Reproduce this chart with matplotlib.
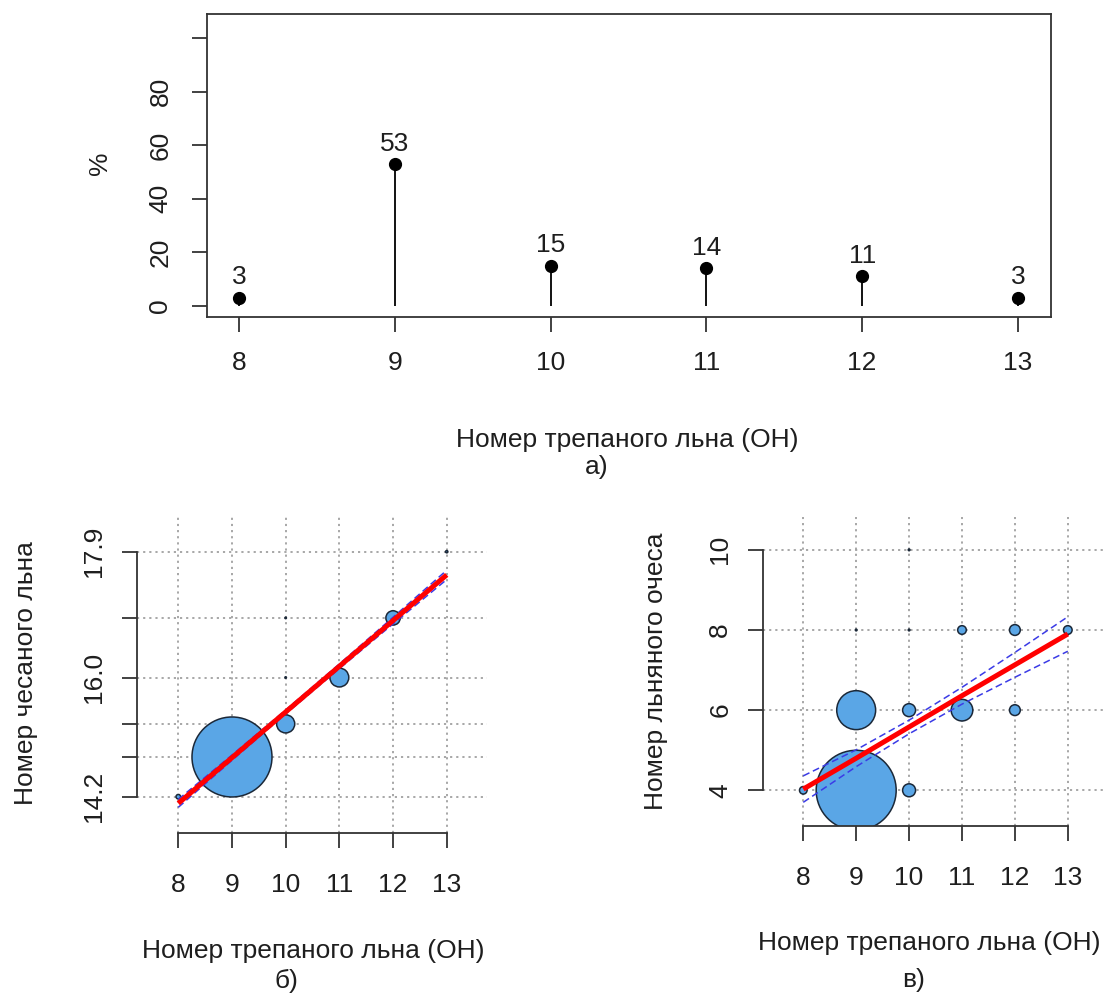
import matplotlib
matplotlib.use("Agg")
import matplotlib.pyplot as plt

plt.rcParams["font.family"] = ["Liberation Sans", "DejaVu Sans"]

# ---- data -------------------------------------------------------------
grade = [8, 9, 10, 11, 12, 13]                 # номер трепаного льна
share = [3, 53, 15, 14, 11, 3]                 # доля, %

# б) номер чесаного льна
hack_x = [8, 9, 10, 10, 10, 11, 12, 13]
hack_y = [14.2, 14.8, 15.3, 16.0, 16.9, 16.0, 16.9, 17.9]
hack_w = [3, 53, 12, 1, 1, 12.5, 9.5, 1.5]
hack_ticks = [14.2, 14.8, 15.3, 16.0, 16.9, 17.9]
hack_labels = ["14.2", "", "", "16.0", "", "17.9"]
hack_fit = [14.10, 14.79, 15.48, 16.17, 16.86, 17.55]
hack_ci = [0.06, 0.04, 0.03, 0.035, 0.05, 0.07]

# в) номер льняного очеса
tow_x = [8, 9, 9, 9, 10, 10, 10, 10, 11, 11, 12, 12, 13]
tow_y = [4, 4, 6, 8, 4, 6, 8, 10, 6, 8, 6, 8, 8]
tow_w = [3.5, 37, 18, 0.8, 6, 6, 0.8, 0.8, 10, 4, 5, 5, 4]
tow_ticks = [4, 6, 8, 10]
tow_fit = [4.03, 4.80, 5.58, 6.36, 7.13, 7.90]
tow_ci = [0.33, 0.21, 0.17, 0.21, 0.31, 0.43]

# ---- figure -----------------------------------------------------------
W, H = 1104, 994
DPI = 100
fig = plt.figure(figsize=(W / DPI, H / DPI), dpi=DPI)

FS = 19
INK = "#1e1e1e"
AXC = "#333333"
GRID = "#a0a0a0"
FILL = "#5aa6e6"
EDGE = "#1b2838"
BUBBLE_MAX_PX = 40.0


def rect(l, t, r, b):
    return [l / W, 1 - b / H, (r - l) / W, (b - t) / H]


def fy(y):
    return 1 - y / H


def style_ticks(ax, xpad, ypad):
    ax.tick_params(direction="out", length=10.8, width=1.3, color=AXC,
                   labelsize=FS, labelcolor=INK)
    ax.tick_params(axis="x", pad=xpad)
    ax.tick_params(axis="y", pad=ypad)
    for lab in ax.get_yticklabels():
        lab.set_rotation(90)
        lab.set_va("center")


# ---- а) distribution --------------------------------------------------
ax = fig.add_axes(rect(206.7, 14, 1051, 317))
ax.set_xlim(7.793, 13.212)
ax.set_ylim(-4.24, 109.1)
ax.vlines(grade, 0, share, color="black", lw=1.3)
ax.plot(grade, share, "o", color="black", ms=8.5)
for g, v in zip(grade, share):
    ax.annotate(f"{v}", (g, v), xytext=(0, 9.6), textcoords="offset points",
                ha="center", va="baseline", fontsize=FS, color=INK)
ax.set_xticks(grade)
ax.set_xticklabels([str(g) for g in grade])
ax.set_yticks([0, 20, 40, 60, 80, 100])
ax.set_yticklabels(["0", "20", "40", "60", "80", ""])
for s in ax.spines.values():
    s.set_linewidth(1.3)
    s.set_color(AXC)
style_ticks(ax, 13.7, 13.9)

fig.text(106.7 / W, fy(163), "%", rotation=90, rotation_mode="anchor",
         ha="center", va="baseline", fontsize=FS, color=INK)
fig.text(627 / W, fy(447), "Номер трепаного льна (ОН)", ha="center",
         va="baseline", fontsize=FS, color=INK)
fig.text(597 / W, fy(474), "а)", ha="center", va="baseline", fontsize=FS,
         color=INK)


def bubble_panel(ax, xs, ys, ws, yticks, ylabels, fit, ci, ylim, xlim):
    ax.set_xlim(*xlim)
    ax.set_ylim(*ylim)
    dotted = (0, (1.2, 2.2))
    for yv in yticks:
        ax.axhline(yv, color=GRID, lw=1.3, ls=dotted, zorder=0)
    for xv in grade:
        ax.axvline(xv, color=GRID, lw=1.3, ls=dotted, zorder=0)
    wmax = max(ws)
    sizes = [(2 * BUBBLE_MAX_PX * w / wmax * 72 / DPI) ** 2 for w in ws]
    ax.scatter(xs, ys, s=sizes, c=FILL, edgecolors=EDGE, linewidths=1.1,
               zorder=2)
    upper = [f + c for f, c in zip(fit, ci)]
    lower = [f - c for f, c in zip(fit, ci)]
    dash = (0, (4.5, 2.5))
    ax.plot(grade, upper, color="#3b3be6", lw=1.1, ls=dash, zorder=3)
    ax.plot(grade, lower, color="#3b3be6", lw=1.1, ls=dash, zorder=3)
    ax.plot(grade, fit, color="#ff0000", lw=3.6, zorder=4,
            solid_capstyle="butt")
    ax.set_xticks(grade)
    ax.set_xticklabels([str(g) for g in grade])
    ax.set_yticks(yticks)
    ax.set_yticklabels(ylabels)
    ax.spines["top"].set_visible(False)
    ax.spines["right"].set_visible(False)
    for side in ("left", "bottom"):
        ax.spines[side].set_linewidth(1.3)
        ax.spines[side].set_color(AXC)
    ax.spines["left"].set_bounds(yticks[0], yticks[-1])
    ax.spines["bottom"].set_bounds(grade[0], grade[-1])
    ax.patch.set_visible(False)


# ---- б) ---------------------------------------------------------------
ax2 = fig.add_axes(rect(136.7, 517, 487, 833))
bubble_panel(ax2, hack_x, hack_y, hack_w, hack_ticks, hack_labels,
             hack_fit, hack_ci, (13.652, 18.424), (7.225, 13.75))
style_ticks(ax2, 18.2, 11.5)
fig.text(33.3 / W, fy(673), "Номер чесаного льна", rotation=90,
         rotation_mode="anchor", ha="center", va="baseline", fontsize=FS,
         color=INK)
fig.text(313 / W, fy(958), "Номер трепаного льна (ОН)", ha="center",
         va="baseline", fontsize=FS, color=INK)
fig.text(286 / W, fy(988), "б)", ha="center", va="baseline", fontsize=FS,
         color=INK)

# ---- в) ---------------------------------------------------------------
ax3 = fig.add_axes(rect(762.7, 517, 1108, 826))
bubble_panel(ax3, tow_x, tow_y, tow_w, tow_ticks,
             [str(t) for t in tow_ticks], tow_fit, tow_ci,
             (3.109, 10.82), (7.233, 13.76))
style_ticks(ax3, 18.2, 11.2)
fig.text(663.3 / W, fy(671.7), "Номер льняного очеса", rotation=90,
         rotation_mode="anchor", ha="center", va="baseline", fontsize=FS,
         color=INK)
fig.text(1101 / W, fy(950), "Номер трепаного льна (ОН)", ha="right",
         va="baseline", fontsize=FS, color=INK)
fig.text(914 / W, fy(987), "в)", ha="center", va="baseline", fontsize=FS,
         color=INK)

fig.savefig("out.png", dpi=DPI)
